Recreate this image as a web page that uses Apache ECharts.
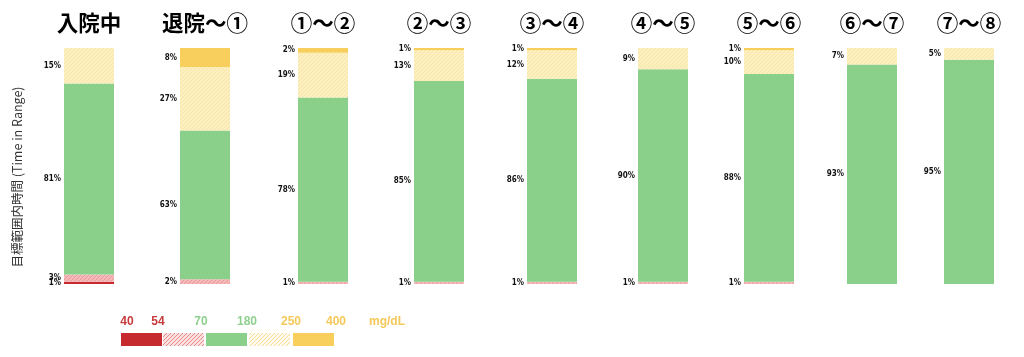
<!DOCTYPE html>
<html><head><meta charset="utf-8">
<script src="https://cdn.jsdelivr.net/npm/echarts@6/dist/echarts.min.js"></script>
<style>html,body{margin:0;padding:0;background:#fff}#c{width:1024px;height:357px}</style>
</head><body><div id="c"></div>
<script>
const categories = ['入院中','退院～①','①～②','②～③','③～④','④～⑤','⑤～⑥','⑥～⑦','⑦～⑧'];
const veryLow  = [1,0,0,0,0,0,0,0,0];
const low      = [3,2,1,1,1,1,1,0,0];
const inRange  = [81,63,78,85,86,90,88,93,95];
const high     = [15,27,19,13,12,9,10,7,5];
const veryHigh = [0,8,2,1,1,0,1,0,0];
const legendTicks = ['40','54','70','180','250','400','mg/dL'];
const yTitle = '目標範囲内時間 (Time in Range)';

function hatch(bg, line){
  const c=document.createElement('canvas'); c.width=4; c.height=4;
  const x=c.getContext('2d'); x.fillStyle=bg; x.fillRect(0,0,4,4);
  x.strokeStyle=line; x.lineWidth=1;
  x.beginPath(); x.moveTo(0,4); x.lineTo(4,0); x.moveTo(-1,1); x.lineTo(1,-1); x.moveTo(3,5); x.lineTo(5,3); x.stroke();
  return c;
}
const RED='#c62a2e', GREEN='#8ad08b', YEL='#f8cf5c';
const pinkPat = hatch('#f5b8b8','#ea9a9a');
const yelPat = hatch('#fcf0c0','#f8e4a4');
const pinkLeg = hatch('#fbe0e0','#e88a8a');
const yelLeg = hatch('#fffaf0','#f7dc94');
const colors = [RED, {image:pinkPat,repeat:'repeat'}, GREEN, {image:yelPat,repeat:'repeat'}, YEL];
const seriesData = [veryLow, low, inRange, high, veryHigh];
const seriesNames = ['<54','54-70','70-180','180-250','>250'];
const LBLFONT = '"DejaVu Sans Condensed", "Liberation Sans", Arial, sans-serif';

const lefts = [64,180,298,414,527,638,744,847,944];
const grids=[], xAxes=[], yAxes=[], series=[];
categories.forEach((cat,i)=>{
  grids.push({left:lefts[i], top:48, width:50, height:236});
  xAxes.push({type:'category', gridIndex:i, data:[cat], position:'top',
    axisLine:{show:false}, axisTick:{show:false},
    axisLabel:{margin:14, fontSize:21.5, fontWeight:'bold', color:'#000', fontFamily:'Noto Sans CJK JP'}});
  yAxes.push({type:'value', gridIndex:i, min:0, max:100, show:false});
  seriesData.forEach((arr,k)=>{
    series.push({type:'bar', name:seriesNames[k], xAxisIndex:i, yAxisIndex:i, stack:'s'+i,
      data:[arr[i]], barWidth:'100%', barCategoryGap:'0%',
      itemStyle:{color:colors[k]},
      label:{show:true, position:'left', distance:3, color:'#111', fontSize:8, fontWeight:'bold',
        fontFamily:LBLFONT,
        formatter:p=>p.value>0?p.value+'%':''},
      labelLayout:{hideOverlap:false}, silent:true, animation:false});
  });
});

const legX=[121,163,206,249,293], legW=41;
const legFill=['#c62a2e',{image:pinkLeg,repeat:'repeat'},GREEN,{image:yelLeg,repeat:'repeat'},YEL];
const graphic=[];
legX.forEach((x,k)=>graphic.push({type:'rect', shape:{x:x,y:333,width:legW,height:13}, style:{fill:legFill[k]}}));
const tickX=[127,158,201,247,291,336,387];
const tickC=['#c83a3a','#c83a3a','#8fd08f','#8fd08f','#f5c85a','#f5c85a','#f5c85a'];
legendTicks.forEach((t,k)=>graphic.push({type:'text', x:tickX[k], y:322,
  style:{text:t, fill:tickC[k], font:'bold 12px "Liberation Sans", Arial, sans-serif', textAlign:'center', textVerticalAlign:'middle'}}));
graphic.push({type:'text', x:17, y:177, rotation:Math.PI/2,
  style:{text:yTitle, fill:'#333', font:'12.5px "Noto Sans CJK JP"', textAlign:'center', textVerticalAlign:'middle'}});

const chart=echarts.init(document.getElementById('c'));
chart.setOption({animation:false, grid:grids, xAxis:xAxes, yAxis:yAxes, series:series, graphic:graphic});
</script></body></html>
